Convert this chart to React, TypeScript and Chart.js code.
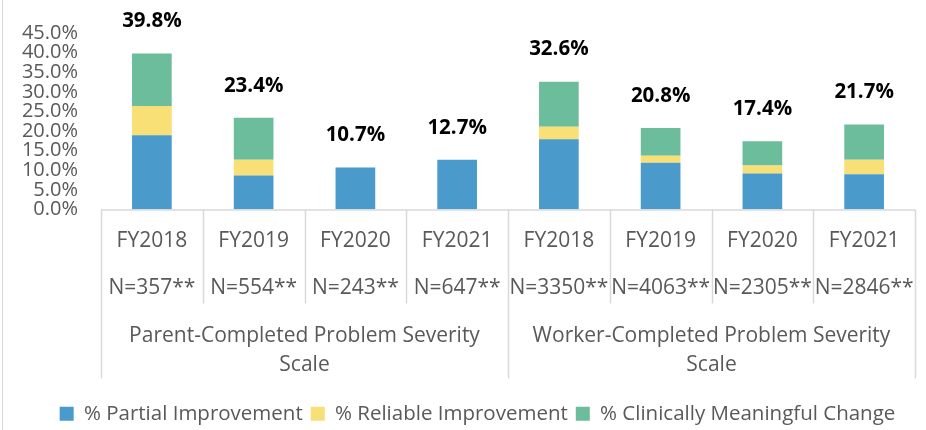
import React, { useEffect, useRef } from "react";
import { Chart, registerables } from "chart.js";

Chart.register(...registerables);

const fiscalYears = ["FY2018", "FY2019", "FY2020", "FY2021", "FY2018", "FY2019", "FY2020", "FY2021"];
const sampleSizes = ["N=357**", "N=554**", "N=243**", "N=647**", "N=3350**", "N=4063**", "N=2305**", "N=2846**"];
const scaleGroups = [
  ["Parent-Completed Problem Severity", "Scale"],
  ["Worker-Completed Problem Severity", "Scale"],
];
const partialImprovement = [18.9, 8.7, 10.7, 12.7, 17.9, 11.9, 9.2, 9.0];
const reliableImprovement = [7.5, 4.0, 0, 0, 3.2, 1.8, 2.0, 3.7];
const clinicallyMeaningful = [13.4, 10.7, 0, 0, 11.5, 7.1, 6.2, 9.0];
const seriesNames = ["% Partial Improvement", "% Reliable Improvement", "% Clinically Meaningful Change"];
const yMax = 45;
const yStep = 5;

const FONT = "'Open Sans', sans-serif";
const GRAY = "#595959";
const LINE = "#d9d9d9";

const decorPlugin = {
  id: "decor",
  afterLayout(chart: any) {
    const lg = chart.legend;
    if (lg) {
      lg.left += 20;
      lg.right += 20;
    }
  },
  beforeDraw(chart: any) {
    const ctx = chart.ctx;
    ctx.save();
    ctx.strokeStyle = LINE;
    ctx.lineWidth = 1;
    ctx.beginPath();
    ctx.moveTo(2.5, 0);
    ctx.lineTo(2.5, chart.height);
    ctx.stroke();
    ctx.restore();
  },
  afterDatasetsDraw(chart: any) {
    const ctx = chart.ctx;
    const y = chart.scales.y;
    const x = chart.scales.x;
    ctx.save();
    ctx.font = `bold 20.5px ${FONT}`;
    ctx.fillStyle = "#000";
    ctx.textAlign = "center";
    ctx.textBaseline = "middle";
    fiscalYears.forEach((_, i) => {
      const total = partialImprovement[i] + reliableImprovement[i] + clinicallyMeaningful[i];
      const px = x.getPixelForValue(i);
      const py = y.getPixelForValue(total);
      ctx.fillText(total.toFixed(1) + "%", px, py - 32);
    });
    ctx.restore();
  },
  afterDraw(chart: any) {
    const ctx = chart.ctx;
    const x = chart.scales.x;
    const bottom = chart.chartArea.bottom;
    const n = fiscalYears.length;
    const step = (x.right - x.left) / n;
    ctx.save();
    ctx.strokeStyle = LINE;
    ctx.lineWidth = 1.5;
    for (let i = 0; i <= n; i++) {
      const px = Math.round(x.left + i * step) + 0.5;
      const len = i % 4 === 0 ? 169 : 94;
      ctx.beginPath();
      ctx.moveTo(px, bottom);
      ctx.lineTo(px, bottom + len);
      ctx.stroke();
    }
    ctx.beginPath();
    ctx.moveTo(x.left, bottom + 0.5);
    ctx.lineTo(x.right, bottom + 0.5);
    ctx.stroke();
    ctx.font = `21px ${FONT}`;
    ctx.fillStyle = GRAY;
    ctx.textAlign = "center";
    ctx.textBaseline = "middle";
    scaleGroups.forEach((lines, g) => {
      const cx = x.left + (g * 4 + 2) * step;
      lines.forEach((t, k) => ctx.fillText(t, cx, bottom + 127 + k * 29));
    });
    ctx.restore();
  },
};

export default function App() {
  const ref = useRef<HTMLCanvasElement>(null);
  useEffect(() => {
    document.body.style.margin = "0";
    const chart = new Chart(ref.current!, {
      type: "bar",
      data: {
        labels: fiscalYears.map((fy, i) => [fy, sampleSizes[i]]),
        datasets: [
          { label: seriesNames[0], data: partialImprovement, backgroundColor: "#4A9BCB" },
          { label: seriesNames[1], data: reliableImprovement, backgroundColor: "#F9E076" },
          { label: seriesNames[2], data: clinicallyMeaningful, backgroundColor: "#6CBD9C" },
        ],
      },
      options: {
        responsive: false,
        animation: false,
        devicePixelRatio: 1,
        layout: { padding: { top: 28, right: 11, left: 0, bottom: 0 } },
        datasets: { bar: { categoryPercentage: 1, barPercentage: 0.39, borderWidth: 0 } },
        plugins: {
          tooltip: { enabled: false },
          legend: {
            position: "bottom",
            labels: {
              boxWidth: 14,
              boxHeight: 14,
              padding: 8,
              color: GRAY,
              font: { family: FONT, size: 20.5 },
            },
          },
        },
        scales: {
          x: {
            stacked: true,
            grid: { display: false, drawTicks: false, tickLength: 0 },
            border: { display: false },
            afterFit: (s: any) => {
              s.height = 186;
            },
            ticks: {
              autoSkip: false,
              maxRotation: 0,
              padding: 8,
              color: GRAY,
              font: { family: FONT, size: 21, lineHeight: "47px" },
            },
          },
          y: {
            stacked: true,
            min: 0,
            max: yMax,
            grid: { display: false, drawTicks: false, tickLength: 0 },
            border: { display: false },
            afterFit: (s: any) => {
              s.width = 101;
            },
            ticks: {
              autoSkip: false,
              stepSize: yStep,
              padding: 23,
              color: GRAY,
              font: { family: FONT, size: 20, lineHeight: 1 },
              callback: (v: any) => Number(v).toFixed(1) + "%",
            },
          },
        },
      },
      plugins: [decorPlugin],
    });
    return () => chart.destroy();
  }, []);
  return (
    <div style={{ width: 926, height: 430, overflow: "hidden", position: "relative", background: "#fff" }}>
      <canvas ref={ref} width={926} height={434} style={{ display: "block" }} />
    </div>
  );
}
